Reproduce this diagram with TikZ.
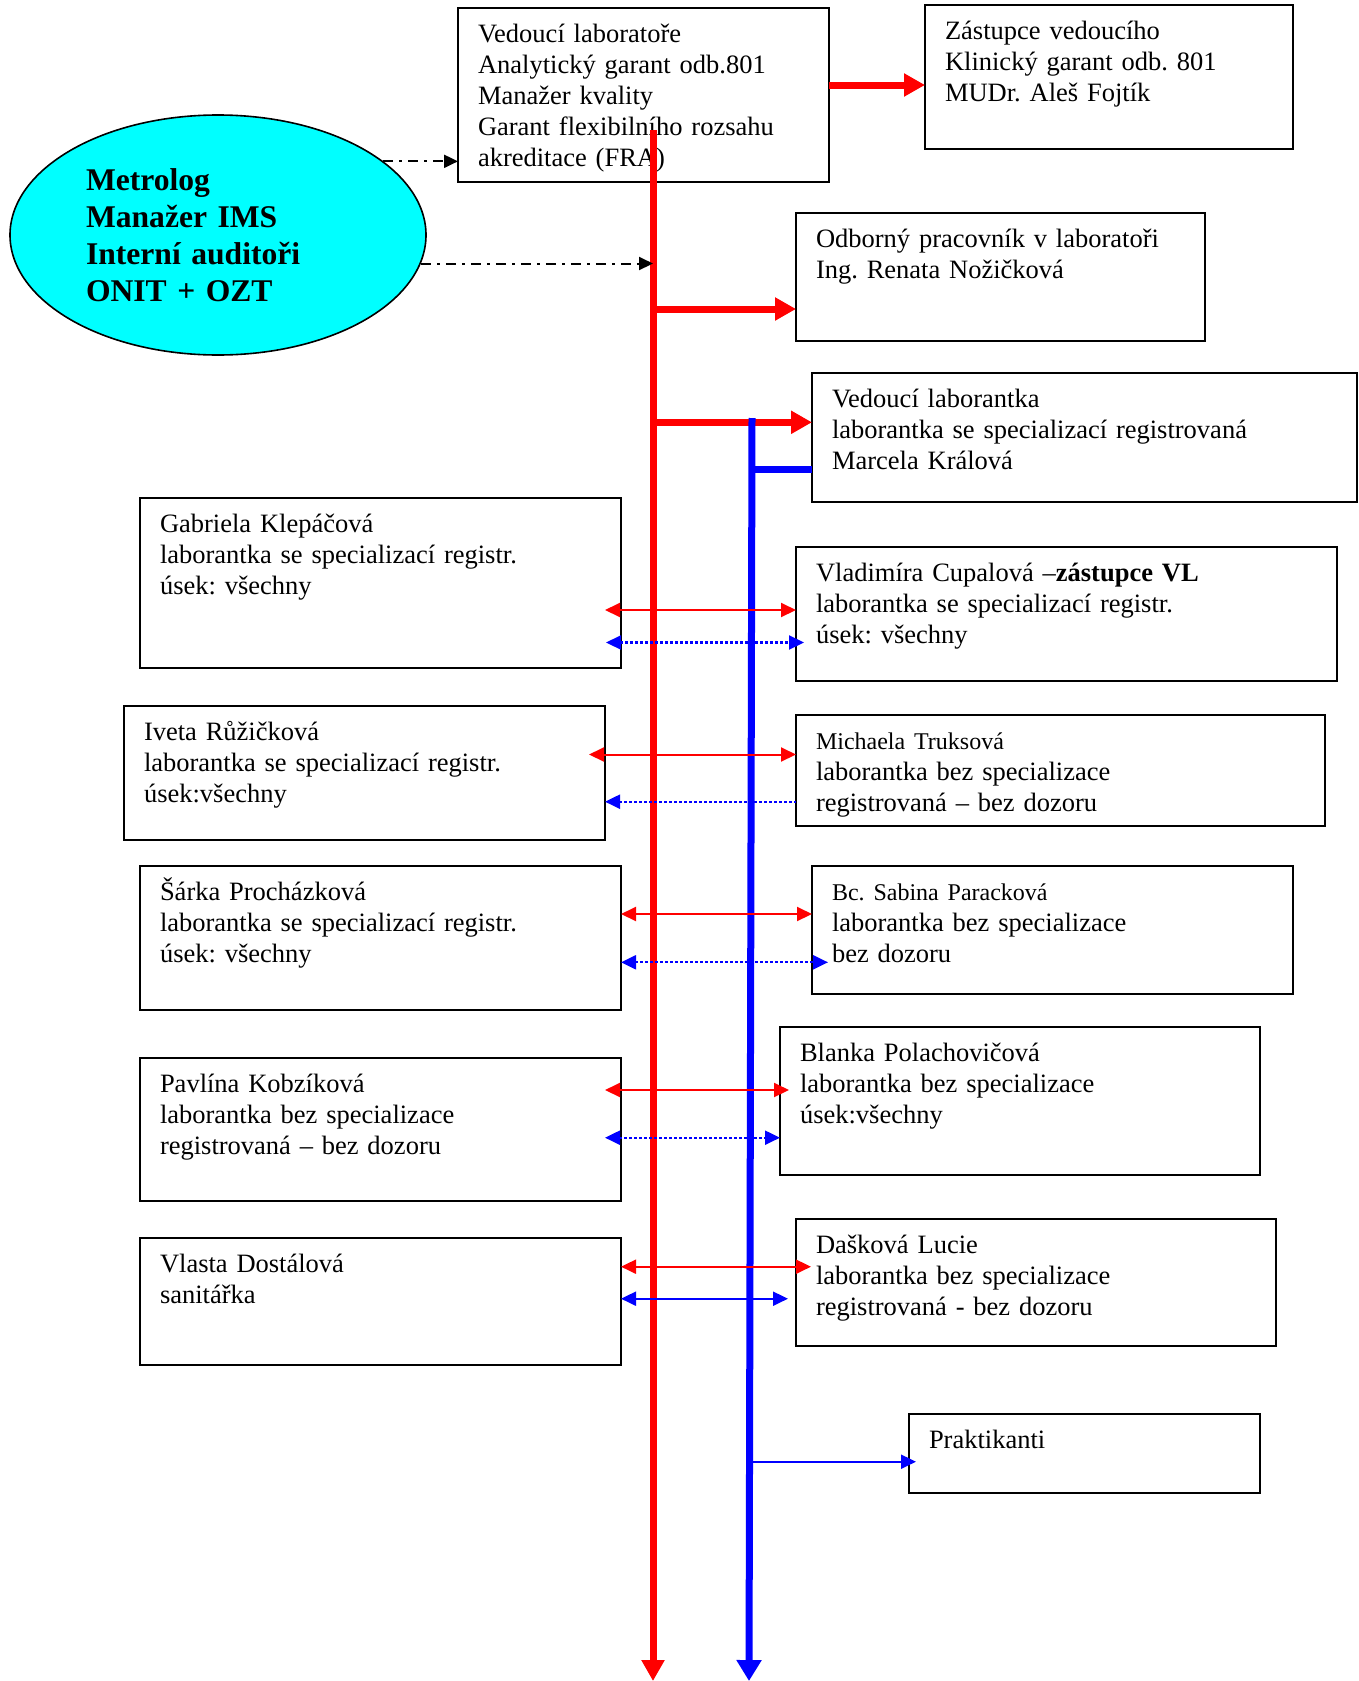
\documentclass[tikz,border=0pt]{standalone}
\usepackage{fontspec}
\setmainfont{Liberation Serif}
\usetikzlibrary{arrows.meta}
\usetikzlibrary{shapes.geometric}
\frenchspacing

\definecolor{tyrkys}{RGB}{0,255,255}
\newcommand{\mensi}{\fontsize{24}{28}\selectfont}

\tikzset{
    osoba/.code 2 args={\pgfmathsetlengthmacro\osw{#1-40}\pgfmathsetlengthmacro\osd{#2-43}%
        \pgfkeysalso{draw, line width=1.6pt, anchor=north west, outer sep=0pt, align=left,
            inner xsep=20pt, inner ysep=8.5pt, text width=\osw, text height=26pt, text depth=\osd}},
    thickred/.style={red, line width=7pt, -{Triangle[width=22pt,length=21pt]}},
    thickblue/.style={blue, line width=7pt},
    thinred/.style={red, line width=2pt, <->},
    dotblue/.style={blue, line width=2.2pt, dash pattern=on 2.5pt off 2.5pt},
    thinblue/.style={blue, line width=2pt},
    dashdot/.style={black, line width=2pt, dash pattern=on 10pt off 6pt on 3pt off 6pt,
        -{Triangle[width=13pt,length=14pt]}}
}

\begin{document}
\begin{tikzpicture}[x=1pt, y=-1pt, font=\fontsize{26.5}{31}\selectfont,
    >={Triangle[width=14pt,length=15pt]}]
    \useasboundingbox (0,0) rectangle (1359,1681);

    % horni cast
    \node[osoba={371}{174}] (vedouci) at (458,8) {Vedoucí laboratoře\\Analytický garant odb.801\\Manažer kvality\\Garant flexibilního rozsahu\\akreditace (FRA)};
    \node[osoba={368}{144}] (zastupce) at (925,5) {Zástupce vedoucího\\Klinický garant odb. 801\\MUDr. Aleš Fojtík};
    \node[draw, ellipse, fill=tyrkys, line width=1.6pt, minimum width=416pt, minimum height=240pt,
        inner sep=0pt, text width=264pt, align=left, font=\bfseries\fontsize{31.6}{36.8}\selectfont]
        (metrolog) at (218,235) {Metrolog\\Manažer IMS\\Interní auditoři\\ONIT + OZT};
    \node[osoba={409}{128}] (odborny) at (796,213) {Odborný pracovník v laboratoři\\Ing. Renata Nožičková};
    \node[osoba={545}{129}] (vedlab) at (812,373) {Vedoucí laborantka\\laborantka se specializací registrovaná\\Marcela Králová};

    % leva strana
    \node[osoba={481}{170}] (gabriela) at (140,498) {Gabriela Klepáčová\\laborantka se specializací registr.\\úsek: všechny};
    \node[osoba={481}{134}] (iveta) at (124,706) {Iveta Růžičková\\laborantka se specializací registr.\\úsek:všechny};
    \node[osoba={481}{144}] (sarka) at (140,866) {Šárka Procházková\\laborantka se specializací registr.\\úsek: všechny};
    \node[osoba={481}{143}] (pavlina) at (140,1058) {Pavlína Kobzíková\\laborantka bez specializace\\registrovaná – bez dozoru};
    \node[osoba={481}{127}] (vlasta) at (140,1238) {Vlasta Dostálová\\sanitářka};

    % prava strana
    \node[osoba={541}{134}] (vladimira) at (796,547) {Vladimíra Cupalová –\textbf{zástupce VL}\\laborantka se specializací registr.\\úsek: všechny};
    \node[osoba={529}{111}] (michaela) at (796,715) {{\mensi Michaela Truksová}\\laborantka bez specializace\\registrovaná – bez dozoru};
    \node[osoba={481}{128}] (sabina) at (812,866) {{\mensi Bc. Sabina Paracková}\\laborantka bez specializace\\bez dozoru};
    \node[osoba={480}{148}] (blanka) at (780,1027) {Blanka Polachovičová\\laborantka bez specializace\\úsek:všechny};
    \node[osoba={480}{127}] (daskova) at (796,1219) {Dašková Lucie\\laborantka bez specializace\\registrovaná - bez dozoru};
    \node[osoba={351}{79}] (praktikanti) at (909,1414) {Praktikanti};

    % kmeny
    \coordinate (rtop) at (653,130);
    \coordinate (rbot) at (653,1681);
    \coordinate (btop) at (752,418);
    \coordinate (bbot) at (749,1681);
    \coordinate (r1) at (653,309);
    \coordinate (r2) at (653,422.3);
    \coordinate (b0) at (752,469.5);

    \draw[thickred] (rtop) -- (rbot);
    \draw[thickred] ([yshift=10pt]vedouci.east) -- ([yshift=10pt]vedouci.east -| zastupce.west);
    \draw[thickred] (r1) -- (r1 -| odborny.west);
    \draw[thickred] (r2) -- (r2 -| vedlab.west);
    \draw[dashdot] (metrolog.24) -- (metrolog.24 -| vedouci.west);
    \draw[dashdot] (metrolog.-8) -- (metrolog.-8 -| rtop);
    \draw[thickblue, -{Triangle[width=24pt,length=21pt]}] (btop) -- (bbot);
    \draw[thickblue] (b0) -- (b0 -| vedlab.west);

    % spojnice
    \coordinate (a1) at (653,610);    \coordinate (d1) at (653,642.5);
    \coordinate (a2) at (653,754.5);  \coordinate (d2) at (653,801.7);
    \coordinate (a3) at (653,914);    \coordinate (d3) at (653,962.3);
    \coordinate (a4) at (653,1090);   \coordinate (d4) at (653,1137.7);
    \coordinate (a5) at (653,1266.7); \coordinate (d5) at (653,1298.7);
    \coordinate (p1) at (750,1461.7);

    \draw[thinred] ([xshift=-16pt]a1 -| gabriela.east) -- (a1 -| vladimira.west);
    \draw[dotblue, <->] ([xshift=-15pt]d1 -| gabriela.east) -- ([xshift=8pt]d1 -| vladimira.west);
    \draw[thinred] ([xshift=-16pt]a2 -| iveta.east) -- (a2 -| michaela.west);
    \draw[dotblue, <-] (d2 -| iveta.east) -- (d2 -| michaela.west);
    \draw[thinred] (a3 -| sarka.east) -- (a3 -| sabina.west);
    \draw[dotblue, <->] (d3 -| sarka.east) -- ([xshift=16pt]d3 -| sabina.west);
    \draw[thinred] ([xshift=-16pt]a4 -| pavlina.east) -- ([xshift=9pt]a4 -| blanka.west);
    \draw[dotblue, <->] ([xshift=-16pt]d4 -| pavlina.east) -- (d4 -| blanka.west);
    \draw[thinred] (a5 -| vlasta.east) -- ([xshift=15pt]a5 -| daskova.west);
    \draw[thinblue, <->] (d5 -| vlasta.east) -- ([xshift=-8pt]d5 -| daskova.west);
    \draw[thinblue, ->] (p1) -- ([xshift=7pt]p1 -| praktikanti.west);
\end{tikzpicture}
\end{document}
